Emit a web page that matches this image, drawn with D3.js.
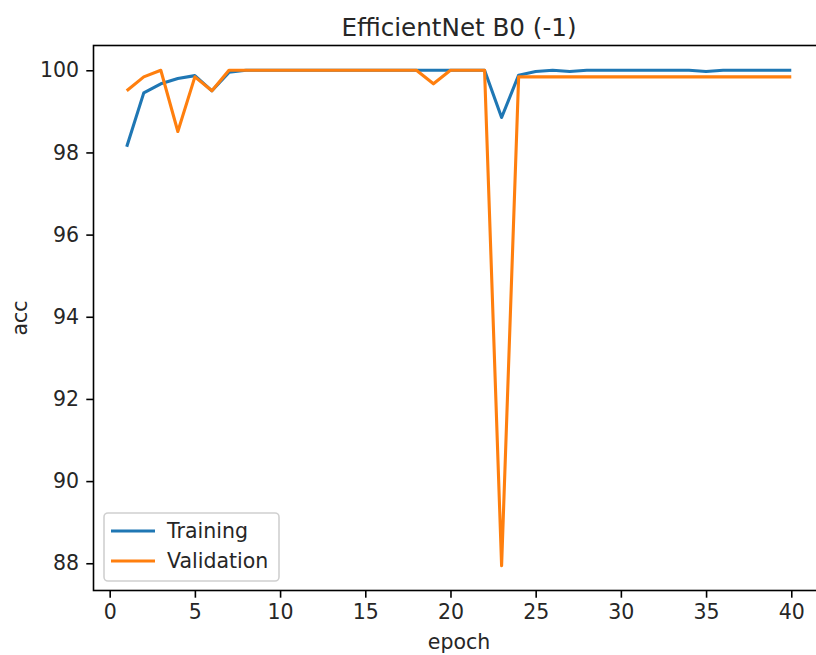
<!DOCTYPE html>
<html>
<head>
<meta charset="utf-8">
<script src="https://cdn.jsdelivr.net/npm/d3@7"></script>
<style>
  body { margin: 0; background: #fff; }
  svg { display: block; font-family: "DejaVu Sans", sans-serif; }
</style>
</head>
<body>
<div id="chart"></div>
<script>
// values
var epochs = d3.range(1, 41);
var training = [98.14, 99.45, 99.67, 99.8, 99.87, 99.5, 99.95, 100, 100, 100,
                100, 100, 100, 100, 100, 100, 100, 100, 100, 100,
                100, 100, 98.85, 99.88, 99.97, 100, 99.97, 100, 100, 100,
                100, 100, 100, 100, 99.97, 100, 100, 100, 100, 100];
var validation = [99.5, 99.84, 100, 98.51, 99.84, 99.5, 100, 100, 100, 100,
                  100, 100, 100, 100, 100, 100, 100, 100, 99.67, 100,
                  100, 100, 87.94, 99.84, 99.84, 99.84, 99.84, 99.84, 99.84, 99.84,
                  99.84, 99.84, 99.84, 99.84, 99.84, 99.84, 99.84, 99.84, 99.84, 99.84];
var series_names = ['Training', 'Validation'];
var series_colors = ['#1f77b4', '#ff7f0e'];
var x_ticks = [0, 5, 10, 15, 20, 25, 30, 35, 40];
var y_ticks = [88, 90, 92, 94, 96, 98, 100];

// sizes (figure was saved at about 2.05 px per pt)
var width = 816, height = 655;
var plot_left = 93.5, plot_right = 824.5, plot_top = 45.5, plot_bottom = 590.5;
var tick_len = 7.2, font_px = 20.5;

var svg = d3.select('#chart').append('svg')
    .attr('width', width).attr('height', height);

var x = d3.scaleLinear().domain([-0.95, 41.95]).range([plot_left, plot_right]);
var y = d3.scaleLinear().domain([87.337, 100.603]).range([plot_bottom, plot_top]);

// x axis
svg.append('g')
    .attr('transform', 'translate(0,' + plot_bottom + ')')
    .call(d3.axisBottom(x).tickValues(x_ticks).tickFormat(d3.format('d'))
        .tickSize(tick_len).tickPadding(7.2).tickSizeOuter(0));

// y axis
svg.append('g')
    .attr('transform', 'translate(' + plot_left + ',0)')
    .call(d3.axisLeft(y).tickValues(y_ticks).tickFormat(d3.format('d'))
        .tickSize(tick_len).tickPadding(7.2).tickSizeOuter(0));

svg.selectAll('.domain').remove();
svg.selectAll('.tick line').attr('stroke', '#000').attr('stroke-width', 1.6);
svg.selectAll('.tick text').attr('fill', '#262626')
    .style('font-size', font_px + 'px').style('font-family', '"DejaVu Sans", sans-serif');

// lines
var line = d3.line()
    .x(function(d, i) { return x(epochs[i]); })
    .y(function(d) { return y(d); });

var data = [training, validation];
svg.selectAll('path.series')
    .data(data).enter().append('path')
    .attr('class', 'series')
    .attr('d', line)
    .attr('fill', 'none')
    .attr('stroke', function(d, i) { return series_colors[i]; })
    .attr('stroke-width', 3.1)
    .attr('stroke-linejoin', 'round')
    .attr('stroke-linecap', 'butt');

// frame
svg.append('rect')
    .attr('x', plot_left).attr('y', plot_top)
    .attr('width', plot_right - plot_left).attr('height', plot_bottom - plot_top)
    .attr('fill', 'none').attr('stroke', '#000').attr('stroke-width', 1.6);

// title + labels
svg.append('text')
    .attr('x', (plot_left + plot_right) / 2).attr('y', 36)
    .attr('text-anchor', 'middle')
    .attr('fill', '#262626')
    .style('font-size', '24.6px')
    .text('EfficientNet B0 (-1)');

svg.append('text')
    .attr('x', (plot_left + plot_right) / 2).attr('y', 649)
    .attr('text-anchor', 'middle')
    .attr('fill', '#262626')
    .style('font-size', font_px + 'px')
    .text('epoch');

svg.append('text')
    .attr('transform', 'translate(27,' + ((plot_top + plot_bottom) / 2) + ') rotate(-90)')
    .attr('text-anchor', 'middle')
    .attr('fill', '#262626')
    .style('font-size', font_px + 'px')
    .text('acc');

// legend
var legend = svg.append('g');
legend.append('rect')
    .attr('x', 104).attr('y', 513)
    .attr('width', 175).attr('height', 68)
    .attr('rx', 4).attr('ry', 4)
    .attr('fill', '#fff').attr('fill-opacity', 0.8)
    .attr('stroke', '#d0d0d0').attr('stroke-width', 1.6);

var items = legend.selectAll('g.item')
    .data(series_names).enter().append('g')
    .attr('class', 'item');

items.append('line')
    .attr('x1', 111).attr('x2', 155)
    .attr('y1', function(d, i) { return 531 + i * 30; })
    .attr('y2', function(d, i) { return 531 + i * 30; })
    .attr('stroke', function(d, i) { return series_colors[i]; })
    .attr('stroke-width', 3.1);

items.append('text')
    .attr('x', 167)
    .attr('y', function(d, i) { return 538 + i * 30; })
    .attr('fill', '#262626')
    .style('font-size', font_px + 'px')
    .text(function(d) { return d; });
</script>
</body>
</html>
